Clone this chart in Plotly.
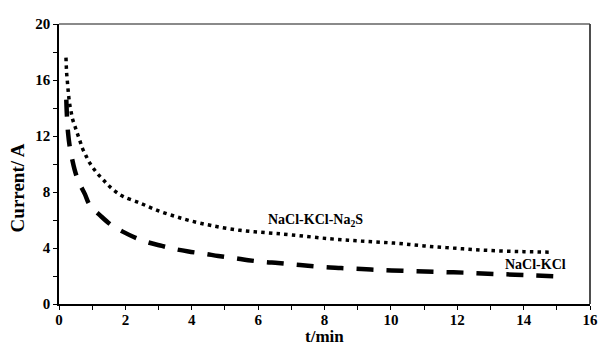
import plotly.graph_objects as go

# NaCl-KCl-Na2S (dotted)
t_dot = [0.21, 0.22, 0.23, 0.25, 0.27, 0.29, 0.32, 0.36, 0.41, 0.48, 0.55, 0.63, 0.71,
         0.81, 0.92, 1.05, 1.2, 1.36, 1.5, 1.72, 1.94, 2.35, 2.6, 3.0, 3.5, 3.95, 4.6,
         5.4, 6.2, 7.0, 8.15, 9.1, 10.1, 11.0, 12.0, 13.0, 14.0, 14.85]
i_dot = [17.6, 17.0, 16.5, 15.95, 15.4, 14.9, 14.3, 13.8, 13.2, 12.7, 12.2, 11.65, 11.1,
         10.6, 10.1, 9.64, 9.2, 8.8, 8.45, 8.0, 7.67, 7.3, 7.05, 6.65, 6.26, 5.95, 5.6,
         5.28, 5.1, 4.94, 4.66, 4.5, 4.35, 4.15, 3.97, 3.82, 3.74, 3.7]

# NaCl-KCl (dashed)
t_dash = [0.22, 0.24, 0.27, 0.32, 0.40, 0.47, 0.58, 0.78, 0.93, 1.23, 1.57, 1.92, 2.27,
          2.66, 3.1, 3.5, 3.9, 4.4, 4.8, 5.3, 5.7, 6.2, 6.6, 7.07, 7.5, 8.0, 8.5, 9.4,
          10.35, 11.3, 12.2, 13.1, 14.05, 15.0]
i_dash = [14.6, 13.4, 12.3, 11.3, 10.3, 9.6, 8.8, 7.85, 7.05, 6.35, 5.65, 5.17, 4.77,
          4.42, 4.15, 3.92, 3.75, 3.58, 3.43, 3.27, 3.13, 3.0, 2.93, 2.82, 2.73, 2.63,
          2.57, 2.46, 2.37, 2.3, 2.24, 2.15, 2.07, 1.98]

x_ticks = [0, 2, 4, 6, 8, 10, 12, 14, 16]
y_ticks = [0, 4, 8, 12, 16, 20]

FONT = "Liberation Serif"

fig = go.Figure()
fig.add_trace(go.Scatter(x=t_dot, y=i_dot, mode="lines", line_shape="spline",
                         line=dict(color="black", width=3.5, dash="3.5px,4.2px"),
                         name="NaCl-KCl-Na2S", showlegend=False))
fig.add_trace(go.Scatter(x=t_dash, y=i_dash, mode="lines", line_shape="spline",
                         line=dict(color="black", width=4.5, dash="17px,13px"),
                         name="NaCl-KCl", showlegend=False))

axis_common = dict(showgrid=False, zeroline=False, ticks="outside", ticklen=4,
                   tickwidth=1.3, tickcolor="black", showline=True, linecolor="black",
                   linewidth=1.6, ticklabeloverflow="allow",
                   tickfont=dict(family=FONT, size=15, color="black", weight="bold"))
fig.update_xaxes(range=[0, 16], tickvals=x_ticks, ticklabelstandoff=-3,
                 minor=dict(dtick=1, ticks="outside", ticklen=4, tickcolor="black", tickwidth=1.3),
                 **axis_common)
fig.update_yaxes(range=[0, 20], tickvals=y_ticks,
                 minor=dict(dtick=2, ticks="outside", ticklen=4, tickcolor="black", tickwidth=1.3),
                 **axis_common)

# frame top (gray) and right (dark gray)
fig.add_shape(type="line", xref="paper", yref="paper", x0=0, x1=1, y0=1, y1=1,
              line=dict(color="#8a8a8a", width=1.8))
fig.add_shape(type="line", xref="paper", yref="paper", x0=1, x1=1, y0=0, y1=1,
              line=dict(color="#3a3a3a", width=1.8))

fig.add_annotation(x=7.72, y=6.0, text="NaCl-KCl-Na<sub>2</sub>S", showarrow=False,
                   font=dict(family=FONT, size=14, color="black", weight="bold"))
fig.add_annotation(x=14.36, y=2.8, text="NaCl-KCl", showarrow=False,
                   font=dict(family=FONT, size=14, color="black", weight="bold"))

fig.add_annotation(xref="paper", yref="paper", x=-0.078, y=0.415, text="Current/ A",
                   textangle=-90, showarrow=False, xanchor="center", yanchor="middle",
                   font=dict(family=FONT, size=19, color="black", weight="bold"))
fig.add_annotation(xref="paper", yref="paper", x=0.5, y=-0.155, text="t/min",
                   showarrow=False, xanchor="center", yanchor="bottom", borderpad=0,
                   font=dict(family=FONT, size=17, color="black", weight="bold"))

# page body has an 8px default margin, so the figure is sized to fit the window
fig.update_layout(width=598, height=341, margin=dict(l=51, r=8, t=8, b=45),
                  plot_bgcolor="white", paper_bgcolor="white")

fig.write_html("out.html")
